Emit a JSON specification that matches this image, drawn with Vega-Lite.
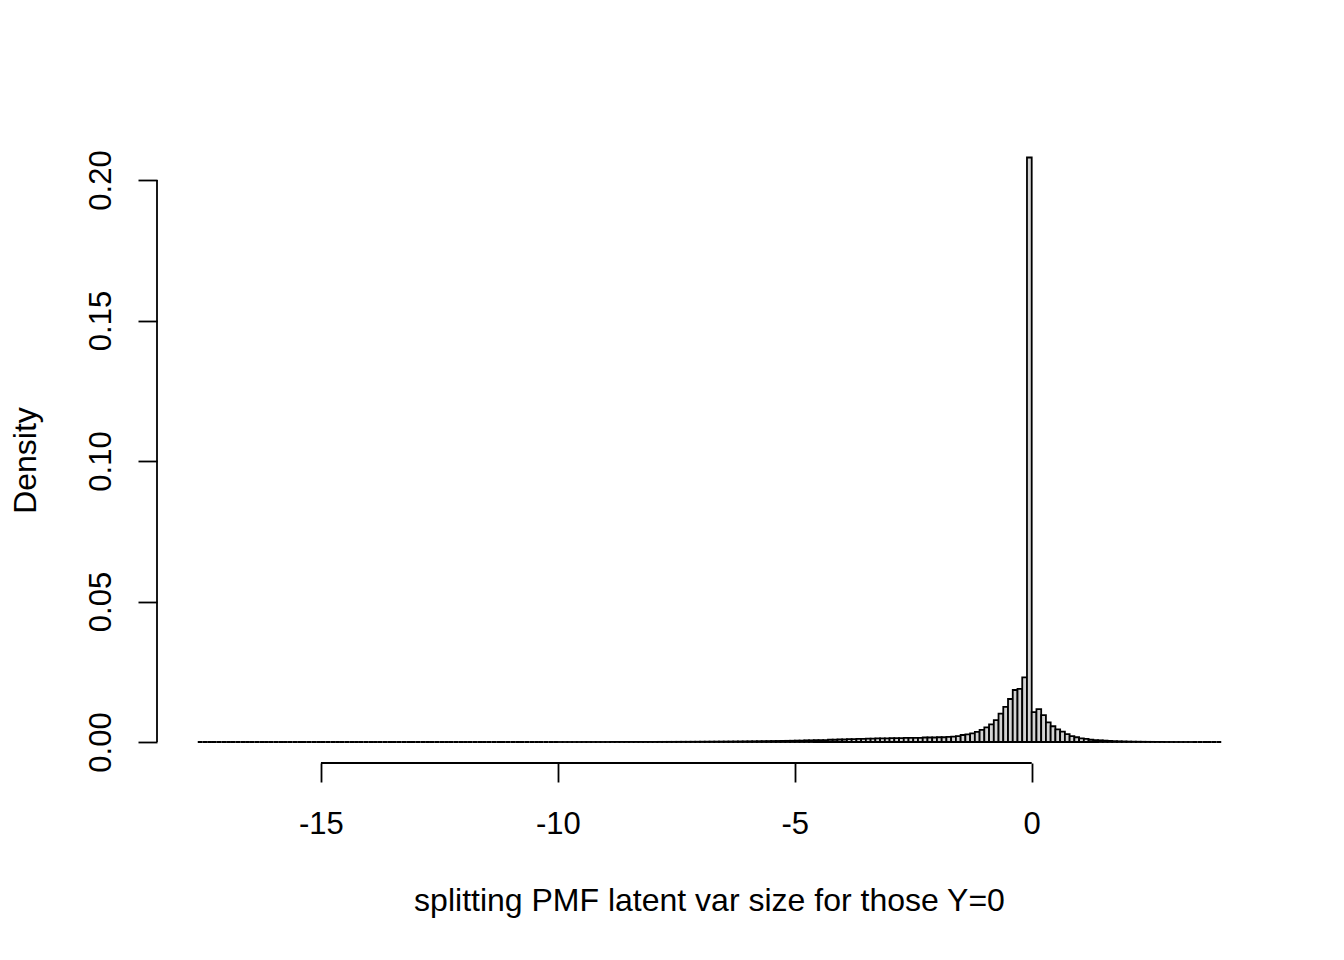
{
  "$schema": "https://vega.github.io/schema/vega-lite/v6.json",
  "width": 1105,
  "height": 629,
  "autosize": "none",
  "padding": {"left": 157, "top": 134, "right": 82, "bottom": 197},
  "background": "white",
  "config": {"view": {"stroke": null}, "font": "Liberation Sans"},
  "layer": [
    {
      "data": {"values": [
        {"x0":-17.6,"x1":-17.5,"d":0},{"x0":-17.5,"x1":-17.4,"d":0},{"x0":-17.4,"x1":-17.3,"d":0},{"x0":-17.3,"x1":-17.2,"d":0},{"x0":-17.2,"x1":-17.1,"d":0},
        {"x0":-17.1,"x1":-17.0,"d":0},{"x0":-17.0,"x1":-16.9,"d":0},{"x0":-16.9,"x1":-16.8,"d":0},{"x0":-16.8,"x1":-16.7,"d":0},{"x0":-16.7,"x1":-16.6,"d":0},
        {"x0":-16.6,"x1":-16.5,"d":0},{"x0":-16.5,"x1":-16.4,"d":0},{"x0":-16.4,"x1":-16.3,"d":0},{"x0":-16.3,"x1":-16.2,"d":0},{"x0":-16.2,"x1":-16.1,"d":0},
        {"x0":-16.1,"x1":-16.0,"d":0},{"x0":-16.0,"x1":-15.9,"d":0},{"x0":-15.9,"x1":-15.8,"d":0},{"x0":-15.8,"x1":-15.7,"d":0},{"x0":-15.7,"x1":-15.6,"d":0},
        {"x0":-15.6,"x1":-15.5,"d":0},{"x0":-15.5,"x1":-15.4,"d":0},{"x0":-15.4,"x1":-15.3,"d":0},{"x0":-15.3,"x1":-15.2,"d":0},{"x0":-15.2,"x1":-15.1,"d":0},
        {"x0":-15.1,"x1":-15.0,"d":0},{"x0":-15.0,"x1":-14.9,"d":0},{"x0":-14.9,"x1":-14.8,"d":0},{"x0":-14.8,"x1":-14.7,"d":0},{"x0":-14.7,"x1":-14.6,"d":0},
        {"x0":-14.6,"x1":-14.5,"d":0},{"x0":-14.5,"x1":-14.4,"d":0},{"x0":-14.4,"x1":-14.3,"d":0},{"x0":-14.3,"x1":-14.2,"d":0},{"x0":-14.2,"x1":-14.1,"d":0},
        {"x0":-14.1,"x1":-14.0,"d":0},{"x0":-14.0,"x1":-13.9,"d":0},{"x0":-13.9,"x1":-13.8,"d":0},{"x0":-13.8,"x1":-13.7,"d":0},{"x0":-13.7,"x1":-13.6,"d":0},
        {"x0":-13.6,"x1":-13.5,"d":0},{"x0":-13.5,"x1":-13.4,"d":0},{"x0":-13.4,"x1":-13.3,"d":0},{"x0":-13.3,"x1":-13.2,"d":0},{"x0":-13.2,"x1":-13.1,"d":0},
        {"x0":-13.1,"x1":-13.0,"d":0},{"x0":-13.0,"x1":-12.9,"d":0},{"x0":-12.9,"x1":-12.8,"d":0},{"x0":-12.8,"x1":-12.7,"d":0},{"x0":-12.7,"x1":-12.6,"d":0},
        {"x0":-12.6,"x1":-12.5,"d":0},{"x0":-12.5,"x1":-12.4,"d":0},{"x0":-12.4,"x1":-12.3,"d":0},{"x0":-12.3,"x1":-12.2,"d":0},{"x0":-12.2,"x1":-12.1,"d":0},
        {"x0":-12.1,"x1":-12.0,"d":0},{"x0":-12.0,"x1":-11.9,"d":0},{"x0":-11.9,"x1":-11.8,"d":0},{"x0":-11.8,"x1":-11.7,"d":0},{"x0":-11.7,"x1":-11.6,"d":0},
        {"x0":-11.6,"x1":-11.5,"d":0},{"x0":-11.5,"x1":-11.4,"d":0},{"x0":-11.4,"x1":-11.3,"d":0},{"x0":-11.3,"x1":-11.2,"d":0},{"x0":-11.2,"x1":-11.1,"d":0},
        {"x0":-11.1,"x1":-11.0,"d":0},{"x0":-11.0,"x1":-10.9,"d":0},{"x0":-10.9,"x1":-10.8,"d":0},{"x0":-10.8,"x1":-10.7,"d":0},{"x0":-10.7,"x1":-10.6,"d":0},
        {"x0":-10.6,"x1":-10.5,"d":0},{"x0":-10.5,"x1":-10.4,"d":0},{"x0":-10.4,"x1":-10.3,"d":0},{"x0":-10.3,"x1":-10.2,"d":0},{"x0":-10.2,"x1":-10.1,"d":0},
        {"x0":-10.1,"x1":-10.0,"d":0},
        {"x0":-10.0,"x1":-9.9,"d":0.00001},{"x0":-9.9,"x1":-9.8,"d":0.00001},{"x0":-9.8,"x1":-9.7,"d":0.00001},{"x0":-9.7,"x1":-9.6,"d":0.00001},{"x0":-9.6,"x1":-9.5,"d":0.00001},
        {"x0":-9.5,"x1":-9.4,"d":0.00002},{"x0":-9.4,"x1":-9.3,"d":0.00002},{"x0":-9.3,"x1":-9.2,"d":0.00002},{"x0":-9.2,"x1":-9.1,"d":0.00002},{"x0":-9.1,"x1":-9.0,"d":0.00002},
        {"x0":-9.0,"x1":-8.9,"d":0.00002},{"x0":-8.9,"x1":-8.8,"d":0.00003},{"x0":-8.8,"x1":-8.7,"d":0.00003},{"x0":-8.7,"x1":-8.6,"d":0.00003},{"x0":-8.6,"x1":-8.5,"d":0.00003},
        {"x0":-8.5,"x1":-8.4,"d":0.00003},{"x0":-8.4,"x1":-8.3,"d":0.00004},{"x0":-8.3,"x1":-8.2,"d":0.00004},{"x0":-8.2,"x1":-8.1,"d":0.00004},{"x0":-8.1,"x1":-8.0,"d":0.00004},
        {"x0":-8.0,"x1":-7.9,"d":0.00004},{"x0":-7.9,"x1":-7.8,"d":0.00005},{"x0":-7.8,"x1":-7.7,"d":0.00005},{"x0":-7.7,"x1":-7.6,"d":0.00006},{"x0":-7.6,"x1":-7.5,"d":0.00006},
        {"x0":-7.5,"x1":-7.4,"d":0.00007},{"x0":-7.4,"x1":-7.3,"d":0.00008},{"x0":-7.3,"x1":-7.2,"d":0.00008},{"x0":-7.2,"x1":-7.1,"d":0.00009},{"x0":-7.1,"x1":-7.0,"d":0.0001},
        {"x0":-7.0,"x1":-6.9,"d":0.00011},{"x0":-6.9,"x1":-6.8,"d":0.00012},{"x0":-6.8,"x1":-6.7,"d":0.00013},{"x0":-6.7,"x1":-6.6,"d":0.00014},{"x0":-6.6,"x1":-6.5,"d":0.00015},
        {"x0":-6.5,"x1":-6.4,"d":0.00016},{"x0":-6.4,"x1":-6.3,"d":0.00017},{"x0":-6.3,"x1":-6.2,"d":0.00019},{"x0":-6.2,"x1":-6.1,"d":0.0002},{"x0":-6.1,"x1":-6.0,"d":0.00022},
        {"x0":-6.0,"x1":-5.9,"d":0.00024},{"x0":-5.9,"x1":-5.8,"d":0.00026},{"x0":-5.8,"x1":-5.7,"d":0.00028},{"x0":-5.7,"x1":-5.6,"d":0.0003},{"x0":-5.6,"x1":-5.5,"d":0.00032},
        {"x0":-5.5,"x1":-5.4,"d":0.00035},{"x0":-5.4,"x1":-5.3,"d":0.00037},{"x0":-5.3,"x1":-5.2,"d":0.0004},{"x0":-5.2,"x1":-5.1,"d":0.00042},{"x0":-5.1,"x1":-5.0,"d":0.00045},
        {"x0":-5.0,"x1":-4.9,"d":0.0005},{"x0":-4.9,"x1":-4.8,"d":0.0005},{"x0":-4.8,"x1":-4.7,"d":0.0006},{"x0":-4.7,"x1":-4.6,"d":0.0006},{"x0":-4.6,"x1":-4.5,"d":0.0007},
        {"x0":-4.5,"x1":-4.4,"d":0.0007},{"x0":-4.4,"x1":-4.3,"d":0.0007},{"x0":-4.3,"x1":-4.2,"d":0.0008},{"x0":-4.2,"x1":-4.1,"d":0.0008},{"x0":-4.1,"x1":-4.0,"d":0.0009},
        {"x0":-4.0,"x1":-3.9,"d":0.0009},{"x0":-3.9,"x1":-3.8,"d":0.001},{"x0":-3.8,"x1":-3.7,"d":0.001},{"x0":-3.7,"x1":-3.6,"d":0.0011},{"x0":-3.6,"x1":-3.5,"d":0.0011},
        {"x0":-3.5,"x1":-3.4,"d":0.0012},{"x0":-3.4,"x1":-3.3,"d":0.0012},{"x0":-3.3,"x1":-3.2,"d":0.0013},{"x0":-3.2,"x1":-3.1,"d":0.0013},{"x0":-3.1,"x1":-3.0,"d":0.0013},
        {"x0":-3.0,"x1":-2.9,"d":0.0014},{"x0":-2.9,"x1":-2.8,"d":0.0014},{"x0":-2.8,"x1":-2.7,"d":0.0014},{"x0":-2.7,"x1":-2.6,"d":0.0015},{"x0":-2.6,"x1":-2.5,"d":0.0015},
        {"x0":-2.5,"x1":-2.4,"d":0.0015},{"x0":-2.4,"x1":-2.3,"d":0.0015},{"x0":-2.3,"x1":-2.2,"d":0.0016},{"x0":-2.2,"x1":-2.1,"d":0.0016},{"x0":-2.1,"x1":-2.0,"d":0.0016},
        {"x0":-2.0,"x1":-1.9,"d":0.0017},{"x0":-1.9,"x1":-1.8,"d":0.0017},{"x0":-1.8,"x1":-1.7,"d":0.0018},{"x0":-1.7,"x1":-1.6,"d":0.0019},{"x0":-1.6,"x1":-1.5,"d":0.0021},
        {"x0":-1.5,"x1":-1.4,"d":0.0025},{"x0":-1.4,"x1":-1.3,"d":0.0027},{"x0":-1.3,"x1":-1.2,"d":0.0031},{"x0":-1.2,"x1":-1.1,"d":0.0036},{"x0":-1.1,"x1":-1.0,"d":0.0043},
        {"x0":-1.0,"x1":-0.9,"d":0.0052},{"x0":-0.9,"x1":-0.8,"d":0.0063},{"x0":-0.8,"x1":-0.7,"d":0.0078},{"x0":-0.7,"x1":-0.6,"d":0.0101},{"x0":-0.6,"x1":-0.5,"d":0.0125},
        {"x0":-0.5,"x1":-0.4,"d":0.0153},{"x0":-0.4,"x1":-0.3,"d":0.0185},{"x0":-0.3,"x1":-0.2,"d":0.0189},{"x0":-0.2,"x1":-0.1,"d":0.023},{"x0":-0.1,"x1":0.0,"d":0.208},
        {"x0":0.0,"x1":0.1,"d":0.0106},{"x0":0.1,"x1":0.2,"d":0.0117},{"x0":0.2,"x1":0.3,"d":0.0096},{"x0":0.3,"x1":0.4,"d":0.007},{"x0":0.4,"x1":0.5,"d":0.0056},
        {"x0":0.5,"x1":0.6,"d":0.0045},{"x0":0.6,"x1":0.7,"d":0.0037},{"x0":0.7,"x1":0.8,"d":0.0028},{"x0":0.8,"x1":0.9,"d":0.0021},{"x0":0.9,"x1":1.0,"d":0.0017},
        {"x0":1.0,"x1":1.1,"d":0.0013},{"x0":1.1,"x1":1.2,"d":0.0011},{"x0":1.2,"x1":1.3,"d":0.0008},{"x0":1.3,"x1":1.4,"d":0.0007},{"x0":1.4,"x1":1.5,"d":0.0006},
        {"x0":1.5,"x1":1.6,"d":0.0005},{"x0":1.6,"x1":1.7,"d":0.0004},{"x0":1.7,"x1":1.8,"d":0.0003},{"x0":1.8,"x1":1.9,"d":0.00025},{"x0":1.9,"x1":2.0,"d":0.0002},
        {"x0":2.0,"x1":2.1,"d":0.00015},{"x0":2.1,"x1":2.2,"d":0.00012},{"x0":2.2,"x1":2.3,"d":0.0001},{"x0":2.3,"x1":2.4,"d":0.00008},{"x0":2.4,"x1":2.5,"d":0.00006},
        {"x0":2.5,"x1":2.6,"d":0.00005},{"x0":2.6,"x1":2.7,"d":0.00004},{"x0":2.7,"x1":2.8,"d":0.00003},{"x0":2.8,"x1":2.9,"d":0.00002},{"x0":2.9,"x1":3.0,"d":0.00002},
        {"x0":3.0,"x1":3.1,"d":0.00001},{"x0":3.1,"x1":3.2,"d":0.00001},{"x0":3.2,"x1":3.3,"d":0.00001},{"x0":3.3,"x1":3.4,"d":0.00001},{"x0":3.4,"x1":3.5,"d":0},
        {"x0":3.5,"x1":3.6,"d":0},{"x0":3.6,"x1":3.7,"d":0},{"x0":3.7,"x1":3.8,"d":0},{"x0":3.8,"x1":3.9,"d":0},{"x0":3.9,"x1":4.0,"d":0}
      ]},
      "mark": {"type": "rect", "fill": "#d3d3d3", "stroke": "black", "strokeWidth": 1.8},
      "encoding": {
        "x": {
          "field": "x0", "type": "quantitative",
          "scale": {"domain": [-18.46, 4.86], "nice": false, "zero": false},
          "axis": {
            "values": [-15, -10, -5, 0],
            "labelExpr": "'' + datum.value",
            "domain": false, "grid": false,
            "tickSize": 19, "tickColor": "black", "tickWidth": 1.8,
            "labelFont": "Liberation Sans", "labelFontSize": 31, "labelColor": "black",
            "labelPadding": 27, "labelBaseline": "top", "labelAlign": "center",
            "title": "splitting PMF latent var size for those Y=0",
            "titleFont": "Liberation Sans", "titleFontSize": 32, "titleFontWeight": "normal", "titleColor": "black",
            "titleX": 552, "titleY": 137, "titleAlign": "center", "titleBaseline": "middle"
          }
        },
        "x2": {"field": "x1"},
        "y": {
          "field": "d", "type": "quantitative",
          "scale": {"domain": [-0.00747, 0.21637], "nice": false, "zero": false},
          "axis": {
            "values": [0, 0.05, 0.1, 0.15, 0.2],
            "labelExpr": "format(datum.value, '.2f')",
            "domain": false, "grid": false,
            "tickSize": 19, "tickColor": "black", "tickWidth": 1.8,
            "labelFont": "Liberation Sans", "labelFontSize": 31, "labelColor": "black",
            "labelAngle": 270, "labelAlign": "center", "labelBaseline": "alphabetic", "labelPadding": 28,
            "title": "Density",
            "titleFont": "Liberation Sans", "titleFontSize": 32, "titleFontWeight": "normal", "titleColor": "black",
            "titleAngle": 270, "titleX": -132, "titleY": 326, "titleAlign": "center", "titleBaseline": "middle"
          }
        },
        "y2": {"datum": 0}
      }
    },
    {
      "data": {"values": [{}]},
      "mark": {"type": "rule", "stroke": "black", "strokeWidth": 1.8},
      "encoding": {
        "x": {"datum": -15, "type": "quantitative"},
        "x2": {"datum": 0},
        "y": {"datum": -0.00747, "type": "quantitative"}
      }
    },
    {
      "data": {"values": [{}]},
      "mark": {"type": "rule", "stroke": "black", "strokeWidth": 1.8},
      "encoding": {
        "x": {"datum": -18.46, "type": "quantitative"},
        "y": {"datum": 0, "type": "quantitative"},
        "y2": {"datum": 0.2}
      }
    }
  ]
}
